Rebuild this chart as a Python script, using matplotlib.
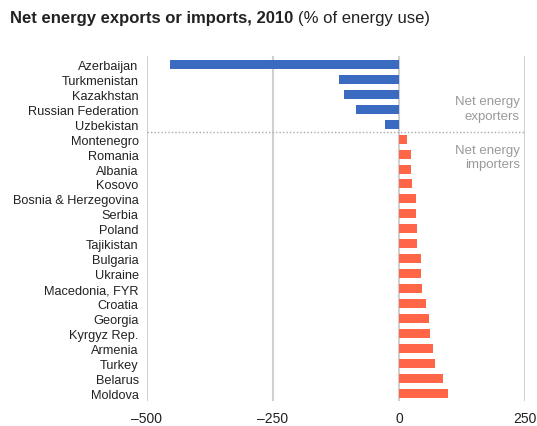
import matplotlib
matplotlib.use("Agg")
import matplotlib.pyplot as plt
import numpy as np

countries = [
    "Azerbaijan", "Turkmenistan", "Kazakhstan", "Russian Federation", "Uzbekistan",
    "Montenegro", "Romania", "Albania", "Kosovo", "Bosnia & Herzegovina", "Serbia",
    "Poland", "Tajikistan", "Bulgaria", "Ukraine", "Macedonia, FYR", "Croatia",
    "Georgia", "Kyrgyz Rep.", "Armenia", "Turkey", "Belarus", "Moldova",
]
values = [
    -454, -119, -109, -85, -27,
    15, 23, 23, 25, 33, 33,
    35, 35, 43, 43, 45, 53,
    59, 61, 67, 71, 87, 97,
]
xticks = [-500, -250, 0, 250]

BLUE = "#3a6bc0"
ORANGE = "#ff6648"
GRID = "#d0d0d0"
TEXT = "#222222"
NOTE = "#9a9a9a"
FONT = ["Liberation Sans", "DejaVu Sans"]

fig = plt.figure(figsize=(5.37, 4.27), dpi=100)
ax = fig.add_axes([0.2737, 0.0585, 0.7040, 0.808])

y = np.arange(len(countries))
colors = [BLUE if v < 0 else ORANGE for v in values]
ax.barh(y, values, height=0.6, color=colors, zorder=3)

ax.set_xlim(-500, 250)
ax.set_ylim(len(countries) - 0.5, -0.55)
ax.set_xticks(xticks)
ax.set_xticklabels([f"\u2013{abs(t)}" if t < 0 else str(t) for t in xticks],
                   fontsize=10, color=TEXT, family=FONT)
ax.set_yticks(y)
ax.set_yticklabels(countries, fontsize=9.2, color=TEXT, family=FONT)
ax.tick_params(axis="both", length=0)
ax.tick_params(axis="y", pad=6)
ax.tick_params(axis="x", pad=7)
for s in ax.spines.values():
    s.set_visible(False)
ax.grid(True, axis="x", color=GRID, linewidth=1.5, zorder=0)

# divider between exporters and importers
n_exp = sum(v < 0 for v in values)
ax.axhline(n_exp - 0.5, color="#aaaaaa", linestyle=(0, (1, 1.5)), linewidth=1, zorder=2)

ax.text(240, n_exp - 2.06, "Net energy\nexporters", ha="right", va="center",
        fontsize=9.5, color=NOTE, family=FONT, linespacing=1.3)
ax.text(240, n_exp + 1.19, "Net energy\nimporters", ha="right", va="center",
        fontsize=9.5, color=NOTE, family=FONT, linespacing=1.3)

t1 = fig.text(10 / 537, 1 - 19 / 427, "Net energy exports or imports, 2010",
              fontsize=12, fontweight="bold", color=TEXT, va="center", family=FONT)
fig.canvas.draw()
bb = t1.get_window_extent()
fig.text((bb.x1 + 5) / fig.bbox.width, 1 - 19 / 427, "(% of energy use)",
         fontsize=12, color=TEXT, va="center", family=FONT)

fig.savefig("out.png", dpi=100)
